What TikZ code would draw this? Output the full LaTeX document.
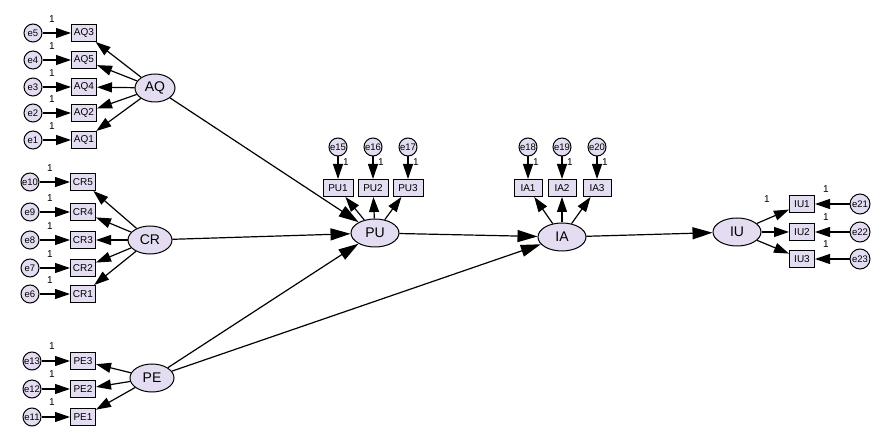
\documentclass[tikz,border=0pt]{standalone}
\usepackage{fontspec}
\setmainfont{Liberation Sans}
\usetikzlibrary{arrows.meta,shapes.geometric}
\definecolor{lav}{HTML}{E4DDF2}
\begin{document}
\begin{tikzpicture}[x=1pt,y=-1pt,
  lat/.style={ellipse, draw, line width=1pt, fill=lav, minimum width=44pt, minimum height=28pt, inner sep=0pt, font=\fontsize{14}{14}\selectfont},
  obs/.style={rectangle, draw, line width=1pt, fill=lav, minimum width=25pt, minimum height=17pt, inner sep=0pt, font=\fontsize{10}{10}\selectfont},
  err/.style={circle, draw, line width=1pt, fill=lav, minimum size=18pt, inner sep=0pt, font=\fontsize{9.5}{9.5}\selectfont},
  arr/.style={-{Triangle[length=15pt,width=10pt]}, line width=1.2pt},
  sarr/.style={-{Triangle[length=20pt,width=12pt]}, line width=1.2pt},
  one/.style={font=\fontsize{10}{10}\selectfont, inner sep=0pt}]
\useasboundingbox (0,0) rectangle (878,430);
% latent variables
\node[lat, minimum width=40pt] (AQ) at (155,88) {AQ};
\node[lat] (CR) at (150,240) {CR};
\node[lat] (PE) at (152,378) {PE};
\node[lat, minimum width=48pt] (PU) at (375,233) {PU};
\node[lat, minimum width=48pt] (IA) at (562,237) {IA};
\node[lat, minimum width=48pt] (IU) at (737,232) {IU};
% AQ block
\foreach \y/\n/\e [count=\i] in {33/AQ3/e5,60/AQ5/e4,87/AQ4/e3,113/AQ2/e2,140/AQ1/e1}{
  \node[obs] (aq\i) at (84,\y) {\n};
  \node[err] (eaq\i) at (33,\y) {\e};
  \draw[arr] (eaq\i) -- (aq\i);
  \draw[arr] (AQ) -- (aq\i);
  \node[one] at (52,\y-14) {1};
}
% CR block
\foreach \y/\n/\e [count=\i] in {182/CR5/e10,212/CR4/e9,240/CR3/e8,268/CR2/e7,294/CR1/e6}{
  \node[obs] (cr\i) at (83,\y) {\n};
  \node[err] (ecr\i) at (30,\y) {\e};
  \draw[arr] (ecr\i) -- (cr\i);
  \draw[arr] (CR) -- (cr\i);
  \node[one] at (50,\y-14) {1};
}
% PE block
\foreach \y/\n/\e [count=\i] in {361/PE3/e13,389/PE2/e12,417/PE1/e11}{
  \node[obs] (pe\i) at (83,\y) {\n};
  \node[err] (epe\i) at (32,\y) {\e};
  \draw[arr] (epe\i) -- (pe\i);
  \draw[arr] (PE) -- (pe\i);
  \node[one] at (52,\y-15) {1};
}
% PU block
\foreach \x/\n/\e [count=\i] in {338/PU1/e15,373/PU2/e16,408/PU3/e17}{
  \node[obs, minimum width=30pt] (pu\i) at (\x,188) {\n};
  \node[err] (epu\i) at (\x,147) {\e};
  \draw[arr] (epu\i) -- (pu\i);
  \draw[arr] (PU) -- (pu\i);
  \node[one] at (\x+8,162) {1};
}
% IA block
\foreach \x/\n/\e [count=\i] in {528/IA1/e18,562/IA2/e19,597/IA3/e20}{
  \node[obs, minimum width=28pt] (ia\i) at (\x,188) {\n};
  \node[err] (eia\i) at (\x,147) {\e};
  \draw[arr] (eia\i) -- (ia\i);
  \draw[arr] (IA) -- (ia\i);
  \node[one] at (\x+8,162) {1};
}
% IU block
\foreach \y/\n/\e [count=\i] in {204/IU1/e21,232/IU2/e22,259/IU3/e23}{
  \node[obs] (iu\i) at (802,\y) {\n};
  \node[err, minimum size=20pt] (eiu\i) at (860,\y) {\e};
  \draw[arr] (eiu\i) -- (iu\i);
  \draw[arr] (IU) -- (iu\i);
  \node[one] at (826,\y-15) {1};
}
\node[one] at (767,199) {1};
% structural paths
\draw[sarr] (AQ) -- (PU);
\draw[sarr] (CR) -- (PU);
\draw[sarr] (PE) -- (PU);
\draw[sarr] (PE) -- (IA);
\draw[sarr] (PU) -- (IA);
\draw[sarr] (IA) -- (IU);
\end{tikzpicture}
\end{document}
